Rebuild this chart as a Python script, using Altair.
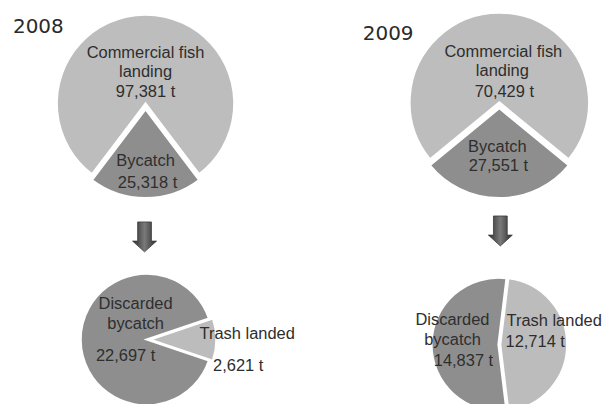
import math
import altair as alt
import pandas as pd

# ---------------- data ----------------
years = ["2008", "2009"]
top_cats = ["Bycatch", "Commercial fish landing"]
top_2008_vals = [25318, 97381]
top_2009_vals = [27551, 70429]
bottom_cats = ["Trash landed", "Discarded bycatch"]
bottom_2008_vals = [2621, 22697]
bottom_2009_vals = [12714, 14837]

label_lines = {
    "Commercial fish landing": ["Commercial fish", "landing"],
    "Bycatch": ["Bycatch"],
    "Discarded bycatch": ["Discarded", "bycatch"],
    "Trash landed": ["Trash landed"],
}

# ---------------- layout / style ----------------
OFF = 8  # page margin
W, H = 594, 388
FONT = "Liberation Sans"
TXT = "#2e2e2e"
cscale = alt.Scale(
    domain=["Commercial fish landing", "Bycatch", "Discarded bycatch", "Trash landed"],
    range=["#bdbdbd", "#8e8e8e", "#8e8e8e", "#bcbcbc"],
)

# pie: cats, vals, centre(page), radius, exploded category, explode offset, centre angle of first slice
pies = [
    dict(cats=top_cats, vals=top_2008_vals, c=(146, 99), r=89, ex="Bycatch", d=(0, 6), mid=math.pi),
    dict(cats=top_cats, vals=top_2009_vals, c=(501, 98), r=90, ex="Bycatch", d=(0, 6), mid=math.pi),
    dict(cats=bottom_cats, vals=bottom_2008_vals, c=(147, 336), r=66, ex="Trash landed", d=(4, 0), mid=math.pi / 2),
    dict(cats=bottom_cats, vals=bottom_2009_vals, c=(500, 341), r=67, ex="Trash landed", d=(2, 0), mid=math.pi / 2),
]

# label anchor positions (page coords, centre x / baseline y) per pie, per category, per line
label_pos = [
    {"Commercial fish landing": [(146, 53), (146, 73), (146, 93)], "Bycatch": [(146, 162), (148, 184)]},
    {"Commercial fish landing": [(505, 52), (504, 72), (506, 93)], "Bycatch": [(499, 148), (500, 167)]},
    {"Discarded bycatch": [(136, 305), (136, 325), (126, 357)], "Trash landed": [(248, 335), (239, 368)]},
    {"Discarded bycatch": [(454, 321), (454, 341), (465, 363)], "Trash landed": [(556, 322), (537, 343)]},
]

layers = []
label_rows = []
for i, p in enumerate(pies):
    df = pd.DataFrame({"cat": p["cats"], "value": p["vals"], "order": list(range(len(p["cats"])))})
    frac = p["vals"][0] / sum(p["vals"])
    start = p["mid"] - frac * math.pi
    base = alt.Chart(df).mark_arc(radius=p["r"], stroke="white", strokeWidth=2).encode(
        theta=alt.Theta("value:Q", stack=True, scale=alt.Scale(range=[start, start + 2 * math.pi])),
        order=alt.Order("order:Q"),
        color=alt.Color("cat:N", scale=cscale, legend=None),
    )
    cx, cy = p["c"][0] - OFF, p["c"][1] - OFF
    main = base.encode(
        x=alt.value(cx), y=alt.value(cy),
        opacity=alt.when(alt.datum.cat != p["ex"]).then(alt.value(1)).otherwise(alt.value(0)),
    )
    exploded = base.encode(
        x=alt.value(cx + p["d"][0]), y=alt.value(cy + p["d"][1]),
        opacity=alt.when(alt.datum.cat == p["ex"]).then(alt.value(1)).otherwise(alt.value(0)),
    )
    layers += [main, exploded]
    for cat, v in zip(p["cats"], p["vals"]):
        lines = label_lines[cat] + [f"{v:,} t"]
        for line, (lx, ly) in zip(lines, label_pos[i][cat]):
            label_rows.append({"text": line, "px": lx - OFF, "py": ly - OFF})

labels = alt.Chart(pd.DataFrame(label_rows)).mark_text(
    font=FONT, fontSize=16.5, color=TXT, align="center", baseline="alphabetic"
).encode(
    x=alt.X("px:Q", scale=None), y=alt.Y("py:Q", scale=None), text="text:N"
)

year_df = pd.DataFrame({"year": years, "px": [13 - OFF, 364 - OFF], "py": [28 - OFF, 35 - OFF]})
year_text = alt.Chart(year_df).mark_text(
    font="DejaVu Sans", fontSize=20, color="#2a2a2a", align="left", baseline="alphabetic"
).encode(x=alt.X("px:Q", scale=None), y=alt.Y("py:Q", scale=None), text="year:N")

arrow_path = "M-0.46,-1 L0.46,-1 L0.46,0.28 L0.8,0.28 L0,1 L-0.8,0.28 L-0.46,0.28 Z"
arrow_df = pd.DataFrame({"year": years, "px": [145 - OFF, 502 - OFF], "py": [233 - OFF, 227 - OFF]})
arrows = alt.Chart(arrow_df).mark_point(
    shape=arrow_path, size=900, filled=True, opacity=1,
    fill=alt.Gradient(
        gradient="linear", x1=0, x2=1, y1=0, y2=0,
        stops=[
            alt.GradientStop(offset=0, color="#2c2c2c"),
            alt.GradientStop(offset=0.5, color="#7a7a7a"),
            alt.GradientStop(offset=1, color="#2c2c2c"),
        ],
    ),
    stroke="#3a3a3a", strokeWidth=0.8,
).encode(x=alt.X("px:Q", scale=None), y=alt.Y("py:Q", scale=None))

chart = (
    alt.layer(*layers, labels, year_text, arrows)
    .resolve_scale(theta="independent")
    .properties(width=W, height=H, padding=0, background="white")
    .configure_view(stroke=None)
)

chart.save("out.html", embed_options={"renderer": "svg", "actions": False})
